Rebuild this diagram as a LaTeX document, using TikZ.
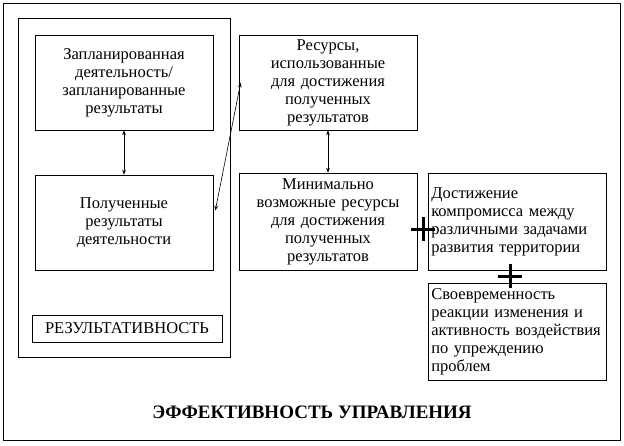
\documentclass[tikz,border=0pt]{standalone}
\usepackage{fontspec}
\setmainfont{Liberation Serif}
\usetikzlibrary{arrows.meta}
\tikzset{
  blk/.style={draw, line width=0.6pt, minimum width=178pt, minimum height=95pt,
    text width=150pt, align=center, inner sep=1pt, font=\fontsize{16.5}{18}\selectfont},
  lblk/.style={blk, align=left, text width=172pt, inner xsep=3pt},
  link/.style={{Stealth[length=5pt]}-{Stealth[length=5pt]}, line width=0.6pt},
  plus/.style={line width=3pt}
}
\begin{document}
\begin{tikzpicture}[x=1pt,y=-1pt]
                \useasboundingbox (0,0) rectangle (624,445);
                \draw[line width=0.6pt] (3,3) rectangle (620,440);
                \draw[line width=0.6pt] (18,18) rectangle (230,357);
                \node[blk] (plan) at (124,82.5) {Запланированная деятельность/ запланированные результаты};
                \node[blk] (got) at (124,222.5) {Полученные\\результаты\\деятельности};
                \node[draw, line width=0.6pt, minimum width=190pt, minimum height=27pt,
                  font=\fontsize{16.5}{18}\selectfont] (res) at (127,328.5) {РЕЗУЛЬТАТИВНОСТЬ};
                \node[blk, text width=160pt] (used) at (328,82.5) {Ресурсы,\\использованные для достижения полученных результатов};
                \node[blk, text width=160pt, minimum height=97pt] (min) at (328,221.5) {Минимально\\возможные ресурсы для достижения полученных результатов};
                \node[lblk, anchor=north west, minimum height=97pt] (comp) at (428,173) {Достижение\\компромисса между различными задачами развития территории\\[4pt]};
                \node[lblk, anchor=north west, minimum height=97pt] (time) at (428,283) {Своевременность реакции изменения и активность воздействия по упреждению проблем};
                \node[font=\bfseries\fontsize{19}{21}\selectfont] (title) at (312,412) {ЭФФЕКТИВНОСТЬ УПРАВЛЕНИЯ};
                \draw[link] (plan) -- (got);
                \draw[link] (used) -- (min);
                \draw[link] ([shift={(2,-12)}]got.east) -- ([shift={(2,0)}]used.west);
                \draw[plus] (411,229) -- (435,229) (423,217) -- (423,241);
                \draw[plus] (498,276) -- (522,276) (510,264) -- (510,288);
            \end{tikzpicture}
\end{document}
